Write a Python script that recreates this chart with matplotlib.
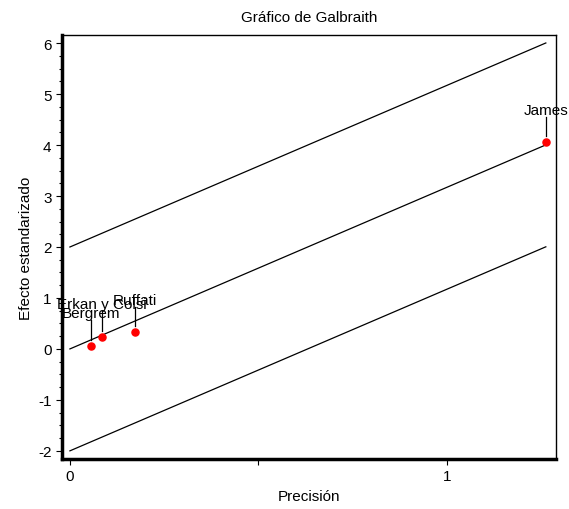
import matplotlib
matplotlib.use("Agg")
import matplotlib.pyplot as plt
from matplotlib.ticker import AutoMinorLocator, MultipleLocator
import numpy as np

plt.rcParams["font.family"] = ["Liberation Sans", "DejaVu Sans"]
plt.rcParams["axes.unicode_minus"] = False

# datos del gráfico de Galbraith
estudios  = ["Bergrem", "Erkan y Colsi", "Ruffati", "James"]
precision = [0.056, 0.085, 0.173, 1.263]
efecto    = [0.06, 0.235, 0.33, 4.06]
pendiente = 3.17
bandas    = [-2, 0, 2]

fig = plt.figure(figsize=(5.69, 5.10), dpi=100)
ax = fig.add_axes([62 / 569, 50 / 510, 494 / 569, 424 / 510])

xs = np.array([0, max(precision)])
for b in bandas:
    ax.plot(xs, b + pendiente * xs, color="black", lw=0.9)

ax.scatter(precision, efecto, color="red", s=26, zorder=3)
for nombre, px, py in zip(estudios, precision, efecto):
    ax.plot([px, px], [py + 0.12, py + 0.5], color="black", lw=0.9)
    ax.text(px, py + 0.5, nombre, ha="center", va="bottom", fontsize=11)

ax.set_xlim(-0.021, 1.29)
ax.set_ylim(-2.16, 6.16)
ax.set_xticks([0, 0.5, 1])
ax.set_xticklabels(["0", "", "1"])
ax.yaxis.set_major_locator(MultipleLocator(1))
ax.yaxis.set_minor_locator(AutoMinorLocator(4))
ax.tick_params(axis="both", which="major", length=4, width=0.8, labelsize=11, direction="out")
ax.tick_params(axis="y", which="minor", length=2, width=0.8)

ax.spines["left"].set_linewidth(2.5)
ax.spines["bottom"].set_linewidth(2.5)
ax.spines["top"].set_linewidth(1)
ax.spines["right"].set_linewidth(1)

ax.set_xlabel("Precisión", fontsize=11)
ax.set_ylabel("Efecto estandarizado", fontsize=11)
ax.set_title("Gráfico de Galbraith", fontsize=11, pad=10)

fig.savefig("out.png", dpi=100)
